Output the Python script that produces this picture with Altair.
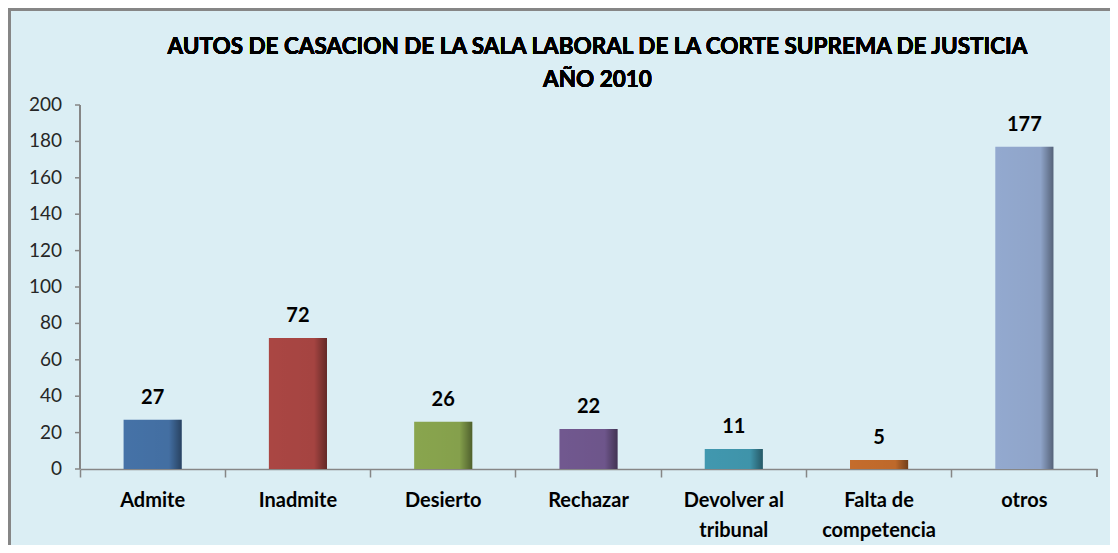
import altair as alt
import pandas as pd

categories = ["Admite", "Inadmite", "Desierto", "Rechazar", "Devolver al tribunal", "Falta de competencia", "otros"]
values = [27, 72, 26, 22, 11, 5, 177]
colors = ["#4572A7", "#AA4643", "#89A54E", "#71588F", "#4198AF", "#C46C2C", "#93A9CF"]
y_ticks = [0, 20, 40, 60, 80, 100, 120, 140, 160, 180, 200]
title_lines = ["AUTOS DE CASACION DE LA SALA LABORAL DE LA CORTE SUPREMA DE JUSTICIA", "AÑO 2010"]

df = pd.DataFrame({"cat": categories, "val": values})
tick_df = pd.DataFrame({"val": y_ticks})

FONT = "Lato"
W, H = 1017, 364

x_enc = alt.X("cat:N", sort=categories,
              scale=alt.Scale(paddingInner=0, paddingOuter=0),
              axis=alt.Axis(title=None, labelAngle=0, bandPosition=0,
                            labelFont=FONT, labelFontSize=20, labelFontWeight="bold",
                            labelColor="#000000", labelPadding=13, labelLineHeight=30,
                            labelBaseline="top",
                            labelExpr="datum.label == 'Devolver al tribunal' ? ['Devolver al', 'tribunal'] : datum.label == 'Falta de competencia' ? ['Falta de', 'competencia'] : datum.label",
                            tickSize=8, tickColor="#868686", domainColor="#868686",
                            domainWidth=1.5, tickWidth=1.5, grid=False))
y_scale = alt.Scale(domain=[0, 200], nice=False)
y_plain = alt.Y("val:Q", scale=y_scale, axis=None)

base = alt.Chart(df)

bars = base.mark_bar(width=alt.RelativeBandSize(0.4)).encode(
    x=x_enc, y=y_plain,
    color=alt.Color("cat:N", sort=categories,
                    scale=alt.Scale(domain=categories, range=colors), legend=None),
)

shade = base.mark_bar(
    width=alt.RelativeBandSize(0.4),
    color=alt.LinearGradient(
        gradient="linear", x1=0, x2=1, y1=0, y2=0,
        stops=[alt.GradientStop(offset=0, color="rgba(0,0,0,0)"),
               alt.GradientStop(offset=0.78, color="rgba(0,0,0,0.03)"),
               alt.GradientStop(offset=1, color="rgba(0,0,0,0.42)")]),
).encode(x=x_enc, y=y_plain)

labels = base.mark_text(font=FONT, fontSize=20, fontWeight="bold", color="#000000",
                        baseline="bottom", dy=-12).encode(
    x=x_enc, y=y_plain, text="val:Q")

# y axis line, ticks and labels, positioned through the y scale
y_domain = base.mark_rule(color="#868686", strokeWidth=1.5).encode(
    x=alt.value(0), y=alt.value(0), y2=alt.value(H))
ytick_marks = alt.Chart(tick_df).mark_rule(color="#868686", strokeWidth=1.5).encode(
    x=alt.value(-5), x2=alt.value(0), y=y_plain)
ytick_labels = alt.Chart(tick_df).mark_text(font=FONT, fontSize=19, color="#262626",
                                             align="right", baseline="middle").encode(
    x=alt.value(-18), y=y_plain, text="val:Q")

end_tick = base.mark_rule(color="#868686", strokeWidth=1.5).encode(
    x=alt.value(W), y=alt.value(H), y2=alt.value(H + 8))

frame = base.mark_rect(filled=False, stroke="#868686", strokeWidth=3).encode(
    x=alt.value(-70.5), x2=alt.value(W + 40), y=alt.value(-95.5), y2=alt.value(H + 100))

title_style = dict(font=FONT, fontSize=22.5, fontWeight="bold", color="#000000",
                   baseline="middle", align="center")
title1 = base.mark_text(**title_style).encode(
    x=alt.value(W / 2 + 9), y=alt.value(-58), text=alt.value(title_lines[0]))
title2 = base.mark_text(**title_style).encode(
    x=alt.value(W / 2 + 9), y=alt.value(-25), text=alt.value(title_lines[1]))

chart = alt.layer(frame, bars, shade, labels, y_domain, ytick_marks, ytick_labels, end_tick,
                  title1, title2).properties(
    width=W, height=H,
    autosize=alt.AutoSizeParams(type="none"),
    padding={"left": 72, "top": 97, "right": 13, "bottom": 76},
    background="#DBEEF4",
).configure_view(stroke=None)

chart.save("out.html", embed_options={"renderer": "svg", "actions": False})
